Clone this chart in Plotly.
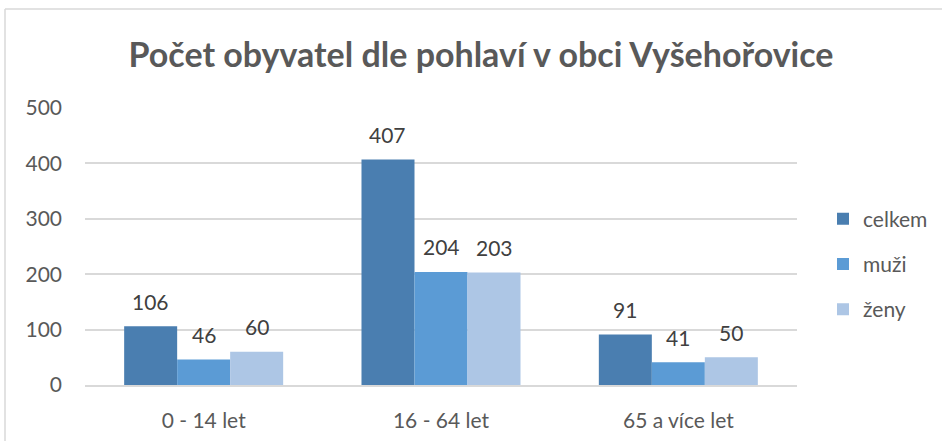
import plotly.graph_objects as go

categories = ["0 - 14 let", "16 - 64 let", "65 a více let"]
celkem = [106, 407, 91]
muzi = [46, 204, 41]
zeny = [60, 203, 50]
series_names = ["celkem", "muži", "ženy"]
colors = ["#4a7eb0", "#5b9bd5", "#adc6e5"]
text_color = "#595959"

W, H = 942, 441
# plot area in window coords: x 85..797, y 108..385
ml, mt = 85, 108
pw, ph = 712, 277
mr = W - ml - pw
mb = H - mt - ph

def px_x(x):
    return (x - ml) / pw

def px_y(y):
    return (mt + ph - y) / ph

fig = go.Figure()
bar_px = pw / 3 * 0.67 / 3
for i, (name, vals, col) in enumerate(zip(series_names, [celkem, muzi, zeny], colors)):
    fig.add_trace(go.Bar(
        x=categories, y=vals, name=name, marker=dict(color=col, line=dict(width=0)),
        legendgroup=name,
    ))
    for c, v in zip(categories, vals):
        fig.add_annotation(x=c, y=v, text=str(v), showarrow=False,
                           xshift=(i - 1) * bar_px, yshift=25, yanchor="middle",
                           font=dict(size=21, color="#404040", family="Lato"))

fig.update_layout(
    width=W, height=H,
    margin=dict(l=ml, r=mr, t=mt, b=mb, autoexpand=False),
    paper_bgcolor="white", plot_bgcolor="white",
    barmode="group", bargap=0.33, bargroupgap=0,
    font=dict(family="Lato", color=text_color, size=20),
    title=dict(text="<b>Počet obyvatel dle pohlaví v obci Vyšehořovice</b>",
               x=481 / W, xanchor="center", y=1 - 55 / H, yanchor="middle",
               font=dict(size=34, color=text_color, family="Lato")),
    yaxis=dict(range=[0, 500], dtick=100, showgrid=True, gridcolor="#d9d9d9",
               gridwidth=1.5, zeroline=False, showline=False, ticks="",
               tickfont=dict(size=21, color=text_color), ticklabelstandoff=22,
               automargin=False),
    xaxis=dict(showline=True, linecolor="#d9d9d9", linewidth=1.5, ticks="",
               tickfont=dict(size=21, color=text_color), ticklabelstandoff=16,
               automargin=False),
    legend=dict(x=px_x(823), xanchor="left", y=px_y(264), yanchor="middle",
                font=dict(size=21, color=text_color), tracegroupgap=15,
                itemwidth=30, bgcolor="rgba(0,0,0,0)"),
    showlegend=True,
)

fig.add_shape(type="line", xref="paper", yref="paper",
              x0=px_x(5), x1=px_x(5), y0=px_y(445), y1=px_y(9),
              line=dict(color="#d9d9d9", width=1.5))
fig.add_shape(type="line", xref="paper", yref="paper",
              x0=px_x(5), x1=px_x(945), y0=px_y(9), y1=px_y(9),
              line=dict(color="#d9d9d9", width=1.5))

fig.write_html("out.html", config={"displayModeBar": False},
               post_script="document.body.style.margin='0';document.body.style.overflow='hidden';")
